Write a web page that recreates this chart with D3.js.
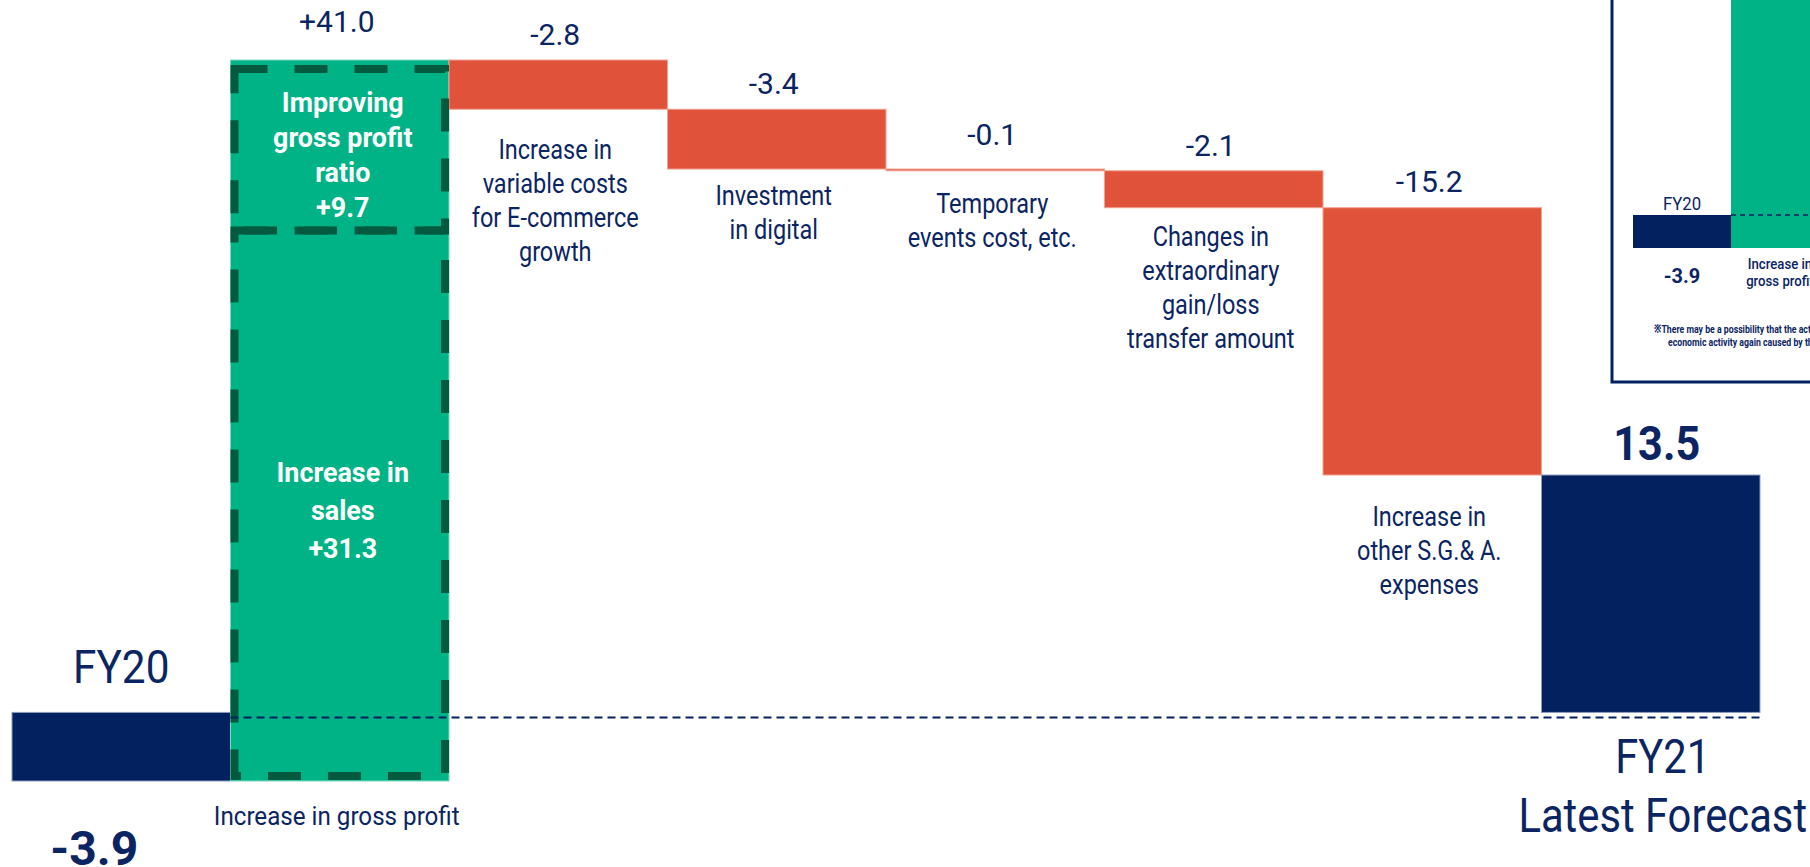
<!DOCTYPE html>
<html>
<head>
<meta charset="utf-8">
<script src="https://cdn.jsdelivr.net/npm/d3@7"></script>
<style>
  body { margin: 0; background: #fff; }
  svg { display: block; font-family: Roboto, "Noto Sans", sans-serif; }
</style>
</head>
<body>
<div id="chart"></div>
<script>
// ---- data ----
const categories = [
  "FY20",
  "Increase in gross profit",
  "Increase in variable costs for E-commerce growth",
  "Investment in digital",
  "Temporary events cost, etc.",
  "Changes in extraordinary gain/loss transfer amount",
  "Increase in other S.G.& A. expenses",
  "FY21 Latest Forecast"
];
const values = [-3.9, 41.0, -2.8, -3.4, -0.1, -2.1, -15.2, 13.5];
const kinds = ["total", "up", "down", "down", "down", "down", "down", "total"];
const valueText = ["-3.9", "+41.0", "-2.8", "-3.4", "-0.1", "-2.1", "-15.2", "13.5"];
const labelLines = [
  ["FY20"],
  ["Increase in gross profit"],
  ["Increase in", "variable costs", "for E-commerce", "growth"],
  ["Investment", "in digital"],
  ["Temporary", "events cost, etc."],
  ["Changes in", "extraordinary", "gain/loss", "transfer amount"],
  ["Increase in", "other S.G.& A.", "expenses"],
  ["FY21", "Latest Forecast"]
];
// breakdown of the gross profit bar (bottom to top)
const gpParts = ["Increase in sales", "Improving gross profit ratio"];
const gpValues = [31.3, 9.7];
const gpLines = [["Increase in", "sales", "+31.3"], ["Improving", "gross profit", "ratio", "+9.7"]];
const insetLabel = ["Increase in", "gross profit"];
const insetNote = [
  "※There may be a possibility that the actual results will change",
  "economic activity again caused by the spread of infection"
];

// ---- styles ----
const navy = "#03215F", red = "#E0523A", green = "#00B386", darkGreen = "#045A3E", ink = "#0B2462";
const fill = { total: navy, up: green, down: red };
const edge = { total: "#8e9bbd", up: "#7fd9c2", down: "#f2a292" };
// gap between bar bottom and first baseline of the category text
const labelGap = [0, 44, 50, 36, 42, 38, 51, 61];
// gap between bar top and value label baseline
const valueGap = [0, 28, 15, 15, 24, 15, 16, 15];

const W = 1810, H = 867;
const svg = d3.select("#chart").append("svg").attr("width", W).attr("height", H);

// running totals
let run = 0;
const steps = values.map((v, i) => {
  let s;
  if (kinds[i] === "total") { s = { y0: 0, y1: v }; run = v; }
  else { s = { y0: run, y1: run + v }; run += v; }
  return Object.assign(s, { name: categories[i], kind: kinds[i], i });
});

const x = d3.scaleBand().domain(categories).range([12, 1760]).padding(0);
const y = d3.scaleLinear()
  .domain(d3.extent(steps.flatMap(d => [d.y0, d.y1])))
  .range([781, 60]);
const bw = x.bandwidth();
const cx = c => x(c) + bw / 2;

function addText(g, px, py, lines, o) {
  const t = g.append("text")
    .attr("transform", `translate(${px},${py}) scale(${o.sx || 1},1)`)
    .attr("text-anchor", o.anchor || "middle")
    .attr("font-size", o.size)
    .attr("font-weight", o.weight || 400)
    .attr("fill", o.color || ink);
  lines.forEach((l, i) => t.append("tspan").attr("x", 0).attr("y", i * (o.lh || 0)).text(l));
  return t;
}

// ---- inset panel (cropped chart at top right) ----
const inset = svg.append("g");
const ix = d3.scaleBand().domain(categories).range([1633, 1633 + 98 * 8]);
const iy = d3.scaleLinear().domain(y.domain()).range([248, 248 - 41 * 8.46]);
inset.append("rect")
  .attr("x", 1612).attr("y", -10).attr("width", 300).attr("height", 392)
  .attr("fill", "#fff").attr("stroke", navy).attr("stroke-width", 3);
inset.selectAll("rect.ibar")
  .data(steps.slice(0, 2))
  .join("rect")
  .attr("class", "ibar")
  .attr("x", d => ix(d.name))
  .attr("width", ix.bandwidth())
  .attr("y", d => iy(Math.max(d.y0, d.y1)))
  .attr("height", d => Math.abs(iy(d.y0) - iy(d.y1)))
  .attr("fill", d => fill[d.kind]);
inset.append("line")
  .attr("x1", ix(categories[1])).attr("x2", W)
  .attr("y1", iy(0)).attr("y2", iy(0))
  .attr("stroke", navy).attr("stroke-width", 1.5).attr("stroke-dasharray", "5,4");
addText(inset, ix(categories[0]) + ix.bandwidth() / 2, iy(0) - 5, ["FY20"], { size: 19, sx: 0.88 });
addText(inset, ix(categories[0]) + ix.bandwidth() / 2, iy(values[0]) + 35, [valueText[0]], { size: 21, weight: 700, sx: 0.95 });
addText(inset, ix(categories[1]) + ix.bandwidth() / 2, iy(values[0]) + 21, insetLabel, { size: 15.5, weight: 500, lh: 17, sx: 0.85 });
addText(inset, 1654, 333, [insetNote[0]], { size: 11.5, weight: 700, anchor: "start", sx: 0.76 });
addText(inset, 1668, 346, [insetNote[1]], { size: 11.5, weight: 700, anchor: "start", sx: 0.76 });

// ---- main waterfall ----
const g = svg.append("g");

g.selectAll("rect.bar")
  .data(steps)
  .join("rect")
  .attr("class", "bar")
  .attr("x", d => x(d.name))
  .attr("width", bw)
  .attr("y", d => y(Math.max(d.y0, d.y1)))
  .attr("height", d => Math.abs(y(d.y0) - y(d.y1)))
  .attr("fill", d => fill[d.kind])
  .attr("stroke", d => edge[d.kind])
  .attr("stroke-width", 1);

// dashed breakdown boxes inside the gross profit bar
let base = steps[1].y0;
const parts = gpValues.map((v, i) => {
  const p = { lo: base, hi: base + v, lines: gpLines[i], name: gpParts[i], i };
  base += v;
  return p;
});
const last = parts.length - 1;
g.selectAll("rect.part")
  .data(parts)
  .join("rect")
  .attr("class", "part")
  .attr("x", x(categories[1]) + 4)
  .attr("width", bw - 8)
  .attr("y", d => y(d.hi) + (d.i === last ? 9 : 0))
  .attr("height", d => y(d.lo) - y(d.hi) - (d.i === last ? 9 : 0) - (d.i === 0 ? 5 : 0))
  .attr("fill", "none")
  .attr("stroke", darkGreen)
  .attr("stroke-width", 8)
  .attr("stroke-dasharray", "33,27");

parts.forEach(p => {
  const n = p.lines.length;
  if (p.i === last) {
    // stack upward from the split line so the text stays inside the box
    const lh = 35;
    addText(g, cx(categories[1]) + 3, y(p.lo) - 14 - (n - 1) * lh, p.lines,
      { size: 28, weight: 700, color: "#fff", lh, sx: 0.96 });
  } else {
    const lh = 38, mid = (y(p.lo) + y(p.hi)) / 2;
    addText(g, cx(categories[1]) + 3, mid - (n - 1) * lh / 2 + 14, p.lines,
      { size: 28, weight: 700, color: "#fff", lh, sx: 0.96 });
  }
});

// zero reference line
g.append("line")
  .attr("x1", x(categories[1])).attr("x2", x(categories[7]) + bw + 4)
  .attr("y1", y(0) + 5).attr("y2", y(0) + 5)
  .attr("stroke", navy).attr("stroke-width", 2).attr("stroke-dasharray", "8,5");

// value labels and category labels
steps.forEach(d => {
  const top = y(Math.max(d.y0, d.y1)), bot = y(Math.min(d.y0, d.y1));
  if (d.i === 0) {
    addText(g, cx(d.name), y(0) - 29, labelLines[0], { size: 46, sx: 0.92 });
    addText(g, cx(d.name) - 27, bot + 84, [valueText[0]], { size: 48, weight: 700 });
  } else if (d.kind === "total") {
    addText(g, cx(d.name) + 6, top - valueGap[d.i], [valueText[d.i]], { size: 48, weight: 700, sx: 0.9 });
    addText(g, cx(d.name) + 12, y(0) + labelGap[d.i], labelLines[d.i], { size: 48, lh: 59, sx: 0.87 });
  } else {
    addText(g, cx(d.name) - 3, top - valueGap[d.i], [valueText[d.i]], { size: 30, sx: 1 });
    const size = d.i === 1 ? 26 : 27;
    const sx = d.i === 1 ? 0.93 : 0.87;
    addText(g, cx(d.name) - 3, bot + labelGap[d.i], labelLines[d.i], { size, lh: 34, sx });
  }
});
</script>
</body>
</html>
